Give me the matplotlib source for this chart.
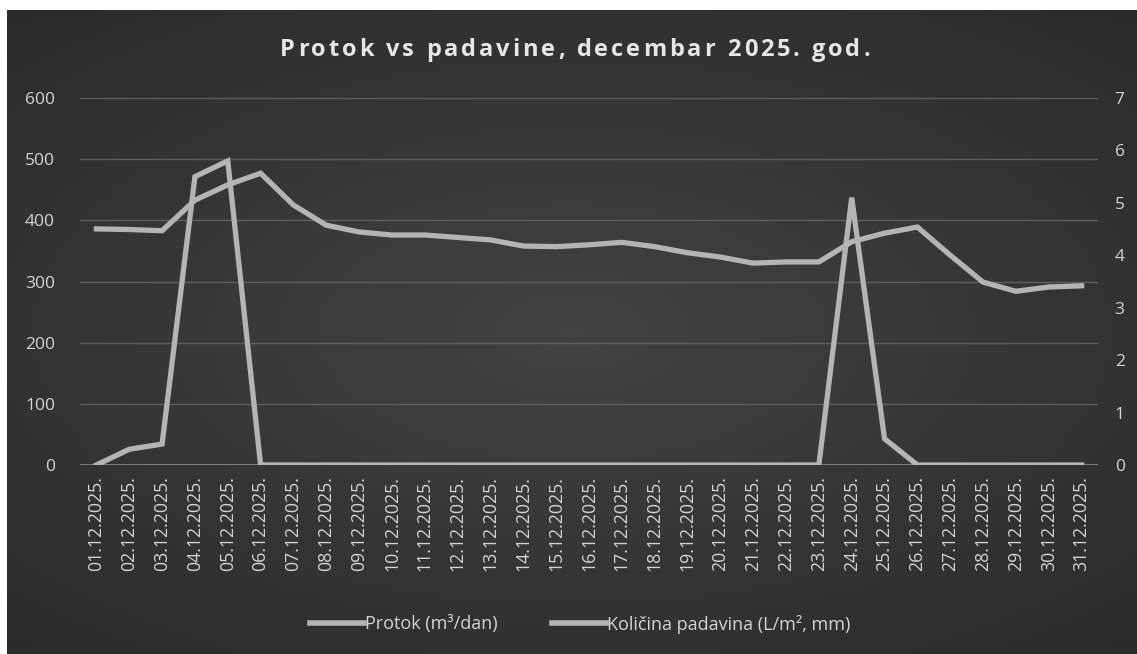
import numpy as np
import matplotlib
matplotlib.use("Agg")
import matplotlib.pyplot as plt
from matplotlib.lines import Line2D

dates = [f"{d:02d}.12.2025." for d in range(1, 32)]
protok = [386, 385, 383, 433, 458, 477, 425, 392, 381, 376, 376, 372, 368, 358,
          357, 360, 364, 357, 347, 340, 330, 332, 332, 365, 379, 389, 343, 299,
          284, 291, 293]
padavine = [0.0, 0.3, 0.4, 5.5, 5.8, 0.0, 0.0, 0.0, 0.0, 0.0, 0.0, 0.0, 0.0, 0.0,
            0.0, 0.0, 0.0, 0.0, 0.0, 0.0, 0.0, 0.0, 0.0, 5.1, 0.5, 0.0, 0.0, 0.0,
            0.0, 0.0, 0.0]
left_ticks = [0, 100, 200, 300, 400, 500, 600]
right_ticks = [0, 1, 2, 3, 4, 5, 6, 7]
title = "Protok vs padavine, decembar 2025. god."
legend_labels = ["Protok (m³/dan)", "Količina padavina (L/m², mm)"]

plt.rcParams['font.family'] = ['Open Sans', 'DejaVu Sans']

W, H = 1137, 654
fig = plt.figure(figsize=(W / 100, H / 100), dpi=100, facecolor='white')

# dark background panel with soft radial gradient
bg = fig.add_axes([7 / W, 0, 1 - 7 / W, 1 - 10 / H])
yy, xx = np.mgrid[-1:1:200j, -1:1:300j]
r = np.sqrt(xx ** 2 * 0.8 + yy ** 2)
shade = 0.26 - 0.07 * np.clip(r, 0, 1.4)
bg.imshow(np.dstack([shade] * 3), aspect='auto', extent=[0, 1, 0, 1])
bg.set_axis_off()

ax = fig.add_axes([80 / W, 1 - 465 / H, (1098 - 80) / W, (465 - 98) / H])
ax.set_facecolor('none')
x = np.arange(len(dates))
line_col = '#b4b4b4'
txt_col = '#d4d4d4'

ax.plot(x, protok, color=line_col, lw=3.8, solid_joinstyle='miter', zorder=3)
ax.set_ylim(0, 600)
ax.set_yticks(left_ticks)
ax.set_xlim(-0.5, len(dates) - 0.5)
ax.set_xticks(x)
ax.set_xticklabels(dates, rotation=90, fontsize=12.8, color=txt_col)
ax.tick_params(axis='y', colors=txt_col, labelsize=12.5, length=0, pad=18)
ax.tick_params(axis='x', length=0, pad=8)
ax.grid(axis='y', color='#5e5e5e', lw=1)
ax.set_axisbelow(True)
for s in ax.spines.values():
    s.set_visible(False)

ax2 = ax.twinx()
ax2.plot(x, padavine, color=line_col, lw=3.8, solid_joinstyle='miter', zorder=3)
ax2.set_ylim(0, 7)
ax2.set_yticks(right_ticks)
ax2.tick_params(axis='y', colors=txt_col, labelsize=12.5, length=0, pad=12)
for s in ax2.spines.values():
    s.set_visible(False)
ax.axhline(0, color='#8a8a8a', lw=1.2, zorder=2)

# letter-spaced title, centred, target width ~590 px
renderer = fig.canvas.get_renderer()
tfs = 17
probe = fig.text(0, 0, title, fontsize=tfs, fontweight='bold')
natural_w = probe.get_window_extent(renderer).width
probe.remove()
target_w = 590
extra = (target_w - natural_w) / (len(title) - 1)
bar = fig.text(0, 0, "|", fontsize=tfs, fontweight='bold')
bar_w = bar.get_window_extent(renderer).width
bar.remove()
widths = []
for i in range(len(title)):
    t = fig.text(0, 0, title[:i + 1] + "|", fontsize=tfs, fontweight='bold')
    widths.append(t.get_window_extent(renderer).width - bar_w)
    t.remove()
x0 = 575 - target_w / 2
for i, ch in enumerate(title):
    start = (widths[i - 1] if i > 0 else 0.0) + extra * i
    if ch != " ":
        fig.text((x0 + start) / W, 1 - 50 / H, ch, ha='left', va='center',
                 fontsize=tfs, fontweight='bold', color='#e6e6e6')

handles = [Line2D([], [], color=line_col, lw=4),
           Line2D([], [], color=line_col, lw=4)]
leg = fig.legend(handles, legend_labels,
                 loc='center', bbox_to_anchor=(580 / W, 1 - 624 / H), ncol=2,
                 frameon=False, fontsize=13, handlelength=3.0, handletextpad=0.05,
                 columnspacing=3.0)
for t in leg.get_texts():
    t.set_color(txt_col)

fig.savefig("out.png", dpi=100, facecolor='white')
